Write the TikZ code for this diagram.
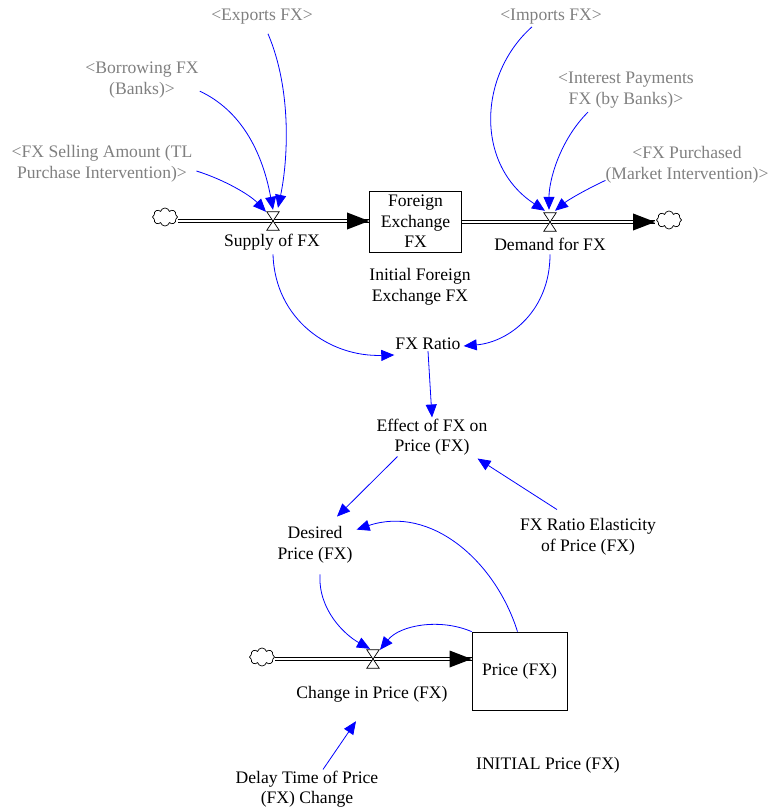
\documentclass[tikz,border=0pt]{standalone}
\usepackage{fontspec}
\setmainfont{Liberation Serif}
\usetikzlibrary{arrows.meta,shapes.symbols}
\definecolor{shadowgray}{RGB}{128,128,128}
\definecolor{linkblue}{RGB}{0,0,255}
\tikzset{
  var/.style={font=\fontsize{17.6}{20.5}\selectfont, align=center, inner sep=1pt},
  shadowvar/.style={var, text=shadowgray},
  link/.style={draw=linkblue, line width=0.8pt, -{Triangle[length=13pt,width=11pt]}},
  stockbox/.style={var, draw, line width=0.8pt},
  pipe/.style={draw=black, double=white, double distance=2pt, line width=0.9pt},
  valvebox/.style={rectangle, inner sep=0pt, minimum width=12pt, minimum height=18pt},
  hourglass/.style={draw=black, fill=white, line width=0.7pt},
  sourcecloud/.style={cloud, draw, cloud puffs=8, aspect=1.4, minimum width=25pt, minimum height=18pt, inner sep=0pt, line width=0.7pt}
}
\begin{document}
\begin{tikzpicture}[x=1pt,y=-1pt]
\useasboundingbox (0,0) rectangle (770,810);

% stocks
\node[stockbox, minimum width=92pt, minimum height=61pt] (fx) at (415.5,221.5) {Foreign\\Exchange\\FX};
\node[stockbox, minimum width=95pt, minimum height=78pt] (price) at (519.5,671) {Price (FX)};

% clouds
\node[sourcecloud] (cl1) at (165,217) {};
\node[sourcecloud] (cl2) at (669,220) {};
\node[sourcecloud] (cl3) at (262,657) {};

% valves
\node[valvebox] (sv) at (273,221) {};
\node[valvebox] (dv) at (550,222) {};
\node[valvebox] (pv) at (373,659) {};

% pipes
\draw[pipe] (cl1.east |- sv) -- (fx.west |- sv);
\fill (fx.west |- sv) -- ++(-22,-8.5) -- ++(0,17) -- cycle;
\draw[pipe] (fx.east |- dv) -- ([xshift=-1pt]cl2.west |- dv);
\fill ([xshift=-1pt]cl2.west |- dv) -- ++(-22,-8.5) -- ++(0,17) -- cycle;
\draw[pipe] (cl3.east |- pv) -- (price.west |- pv);
\fill (price.west |- pv) -- ++(-22,-8.5) -- ++(0,17) -- cycle;

\draw[hourglass] (sv.north west) -- (sv.north east) -- (sv.south west) -- (sv.south east) -- cycle;
\draw[hourglass] (dv.north west) -- (dv.north east) -- (dv.south west) -- (dv.south east) -- cycle;
\draw[hourglass] (pv.north west) -- (pv.north east) -- (pv.south west) -- (pv.south east) -- cycle;

% labels / variables
\node[var] (sup) at (272,242) {Supply of FX};
\node[var] (dem) at (550,244) {Demand for FX};
\node[var] (init) at (420,287) {Initial Foreign\\Exchange FX};
\node[var] (ratio) at (428,344) {FX Ratio};
\node[var] (eff) at (432,437) {Effect of FX on\\Price (FX)};
\node[var] (des) at (315,545) {Desired\\Price (FX)};
\node[var] (elas) at (588,537) {FX Ratio Elasticity\\of Price (FX)};
\node[var] (chg) at (372,694) {Change in Price (FX)};
\node[var] (delay) at (307,789) {Delay Time of Price\\(FX) Change};
\node[var] (initp) at (548,765) {INITIAL Price (FX)};

\node[shadowvar] (exp) at (262,17) {<Exports FX>};
\node[shadowvar] (bor) at (142,80) {<Borrowing FX\\(Banks)>};
\node[shadowvar] (sel) at (102,164) {<FX Selling Amount (TL\\Purchase Intervention)>};
\node[shadowvar] (imp) at (551,17) {<Imports FX>};
\node[shadowvar] (int) at (626,90) {<Interest Payments\\FX (by Banks)>};
\node[shadowvar] (pur) at (687,165) {<FX Purchased\\(Market Intervention)>};

% links
\draw[link] ([xshift=6pt,yshift=-8pt]exp.south) .. controls (292,90) and (288,160) .. ([xshift=5pt,yshift=4pt]sv.north);
\draw[link] ([yshift=8pt]bor.south east) .. controls (240,110) and (262,150) .. ([yshift=2pt]sv.north);
\draw[link] ([xshift=3pt,yshift=-7pt]sel.east) .. controls (225,180) and (250,195) .. ([xshift=-7pt]sv.north);
\draw[link] ([xshift=-19pt,yshift=-1pt]imp.south) .. controls (478,75) and (475,165) .. ([xshift=-5pt,yshift=2pt]dv.north);
\draw[link] ([xshift=-38pt,yshift=-3pt]int.south) .. controls (560,140) and (549,180) .. ([xshift=-1pt,yshift=3pt]dv.north);
\draw[link] ([xshift=1pt,yshift=4pt]pur.south west) .. controls (585,190) and (568,200) .. ([xshift=5pt,yshift=2pt]dv.north);
\draw[link] ([xshift=1pt,yshift=-3pt]sup.south) .. controls (275,320) and (330,357) .. ([yshift=-11pt]ratio.west);
\draw[link] ([yshift=-3pt]dem.south) .. controls (550,310) and (510,342) .. ([xshift=2pt,yshift=-2pt]ratio.east);
\draw[link] (ratio.south) -- (eff.north);
\draw[link] ([xshift=22pt]eff.south west) -- ([xshift=22pt,yshift=9pt]des.north);
\draw[link] ([xshift=-31pt,yshift=8pt]elas.north) -- ([xshift=-11pt,yshift=-2pt]eff.south east);
\draw[link] ([xshift=-2pt]price.north) .. controls (495,560) and (430,505) .. ([xshift=3pt,yshift=-4pt]des.north east);
\draw[link] ([xshift=5pt,yshift=-10pt]des.south) .. controls (318,610) and (345,635) .. ([xshift=-3pt,yshift=1pt]pv.north);
\draw[link] (price.north west) .. controls (440,618) and (400,625) .. ([xshift=7pt]pv.north);
\draw[link] ([xshift=16pt]delay.north) -- ([xshift=-16pt,yshift=-18pt]chg.south);
\end{tikzpicture}
\end{document}
